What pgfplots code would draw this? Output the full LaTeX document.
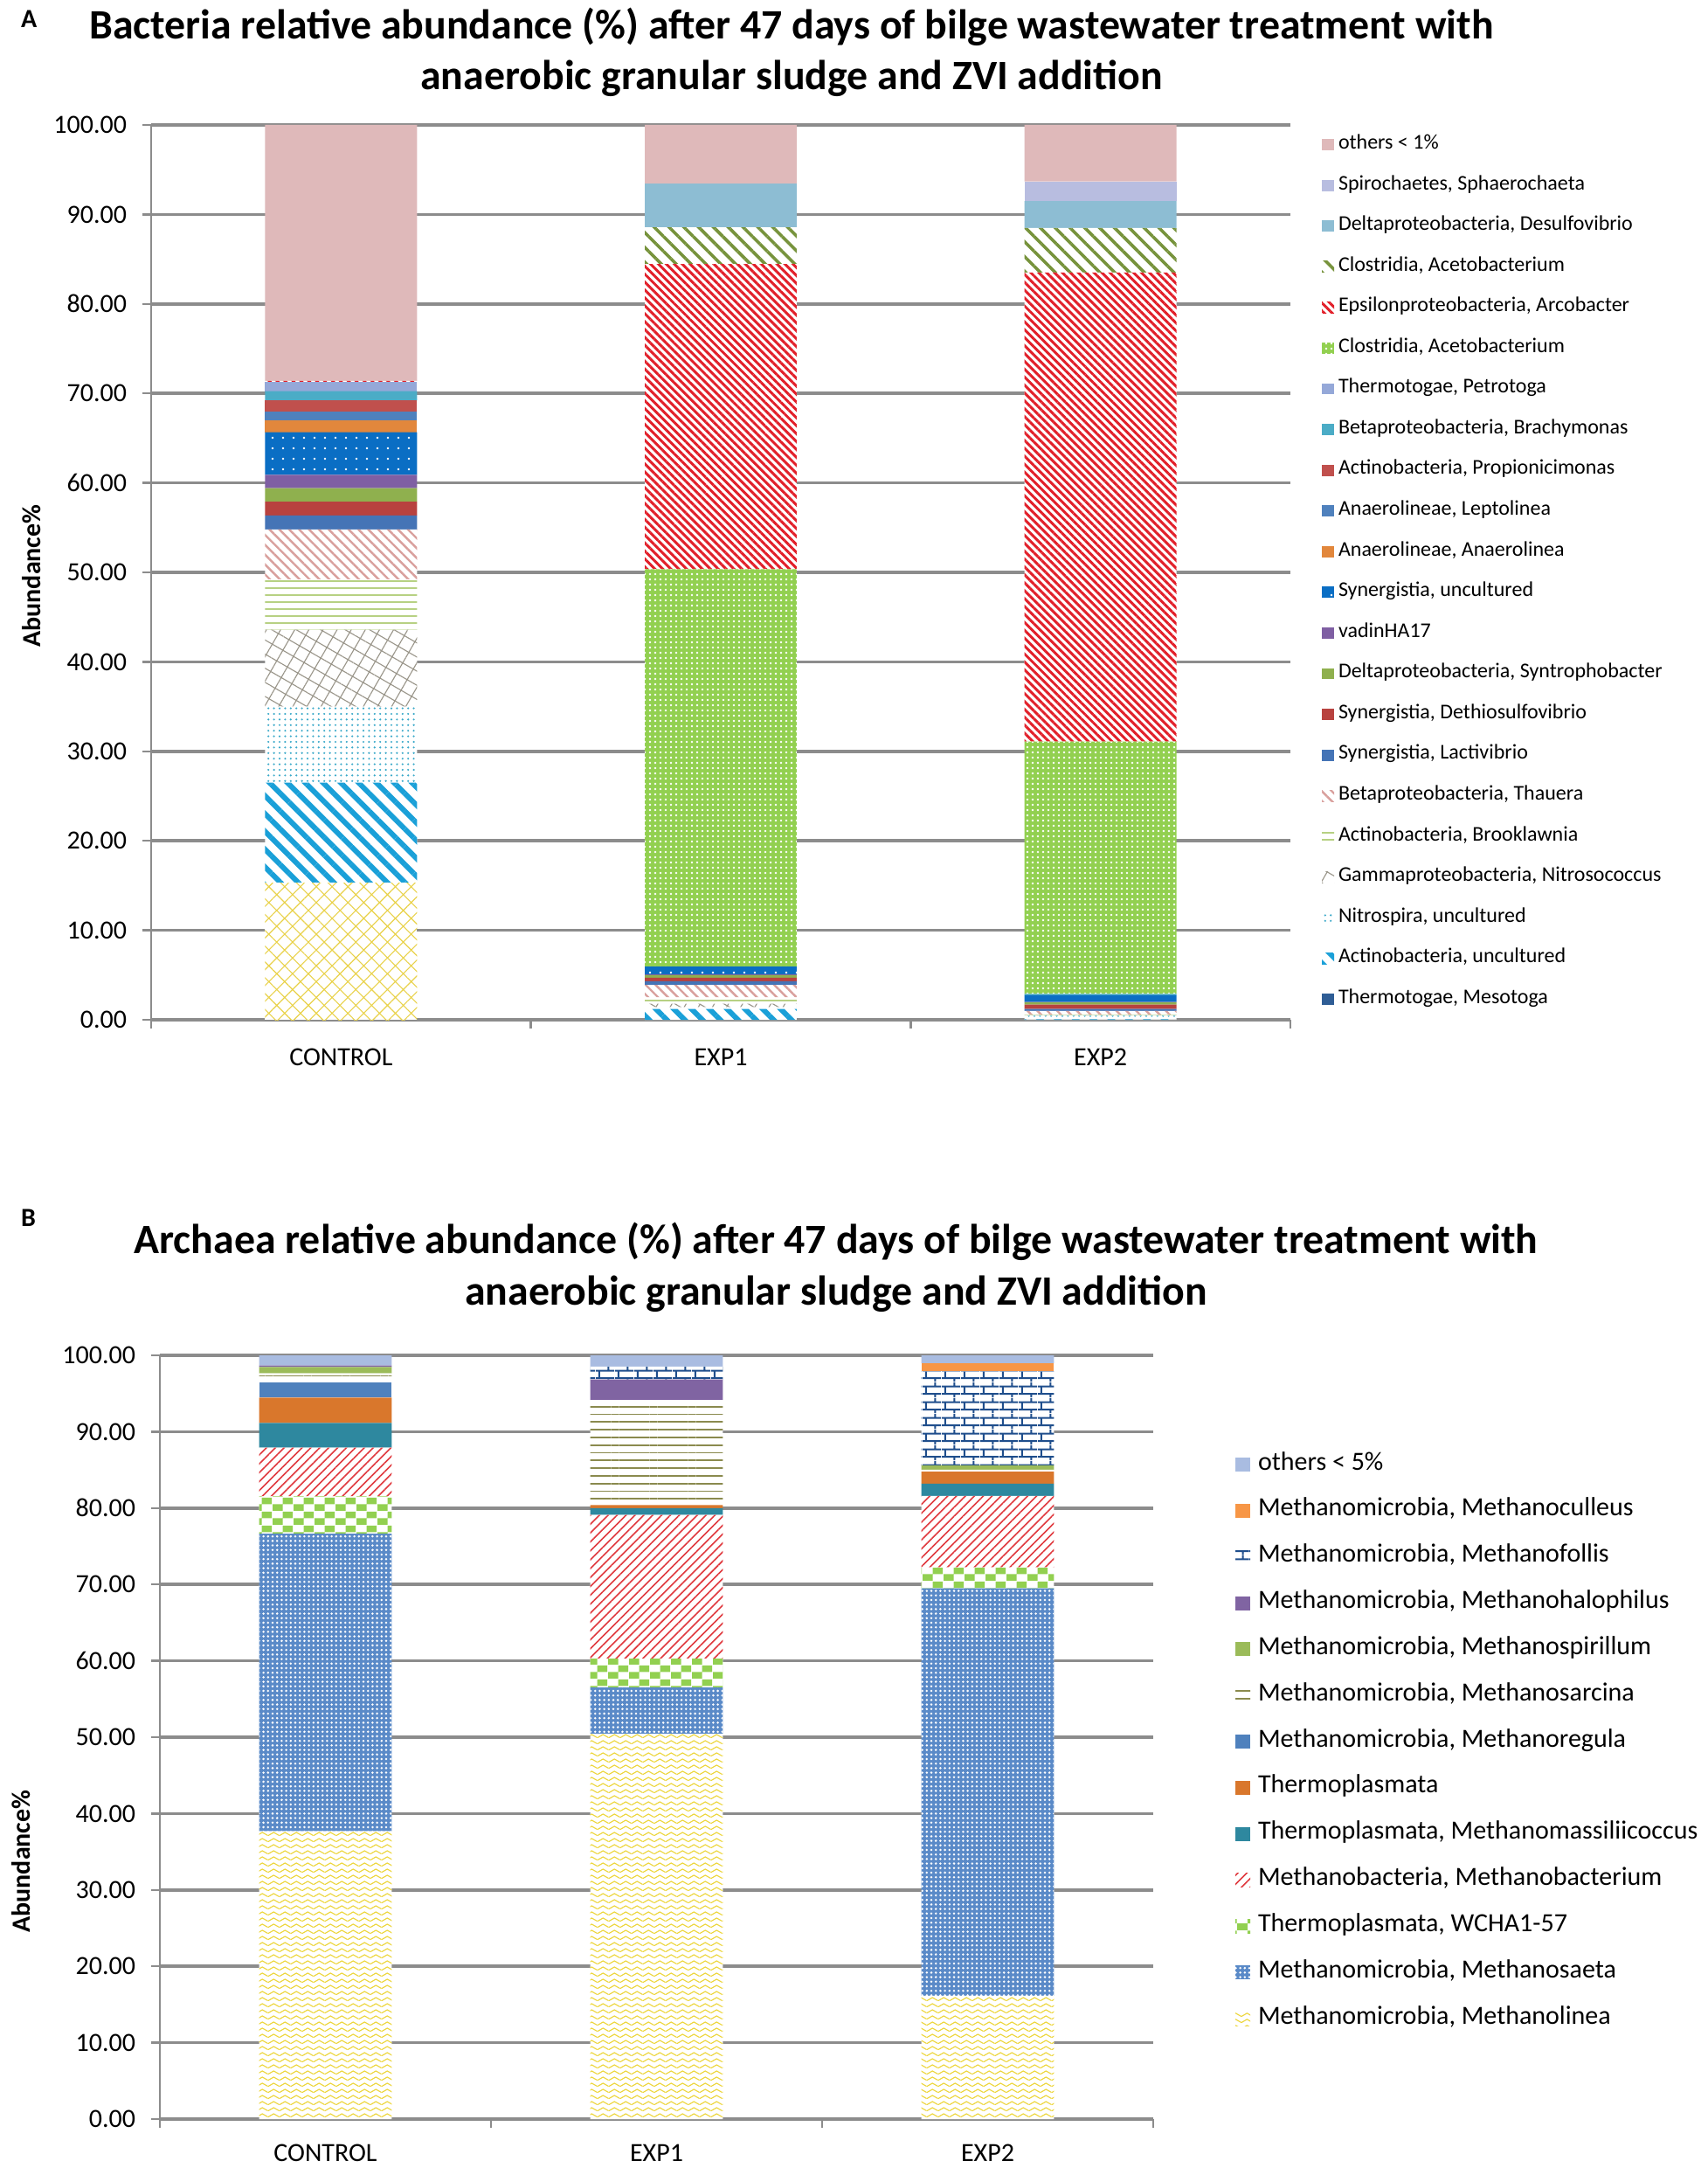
\documentclass[border=0pt]{standalone}
\usepackage{fontspec}
\setmainfont{Carlito}
\usepackage{pgfplots}
\pgfplotsset{compat=1.18}
\usetikzlibrary{patterns.meta}

\definecolor{cGrid}{HTML}{8C8C8C}
% panel A
\definecolor{cOthA}{HTML}{DFB9BA}
\definecolor{cSpiro}{HTML}{B8BDE0}
\definecolor{cDesulf}{HTML}{8DBDD3}
\definecolor{cOlive}{HTML}{77933C}
\definecolor{cArco}{HTML}{E2202A}
\definecolor{cGreenAc}{HTML}{92D050}
\definecolor{cPetro}{HTML}{95A8D8}
\definecolor{cBrachy}{HTML}{4BACC6}
\definecolor{cPropi}{HTML}{C0504D}
\definecolor{cLepto}{HTML}{4F81BD}
\definecolor{cAnaero}{HTML}{E2873C}
\definecolor{cSynU}{HTML}{0A6EC4}
\definecolor{cVadin}{HTML}{7F5FA3}
\definecolor{cSyntro}{HTML}{8FB04E}
\definecolor{cDethio}{HTML}{B8423F}
\definecolor{cLacti}{HTML}{4574B6}
\definecolor{cThauera}{HTML}{D9A09D}
\definecolor{cBrook}{HTML}{B7D183}
\definecolor{cGamma}{HTML}{9A968A}
\definecolor{cNitro}{HTML}{3AA9C9}
\definecolor{cActU}{HTML}{1AA0D8}
\definecolor{cMeso}{HTML}{2F5D95}
\definecolor{cYel}{HTML}{E9D24A}
% panel B
\definecolor{cOthB}{HTML}{A9BCE1}
\definecolor{cCull}{HTML}{F79646}
\definecolor{cFoll}{HTML}{1F4E8C}
\definecolor{cHalo}{HTML}{8064A2}
\definecolor{cSpir}{HTML}{9BBB59}
\definecolor{cSarc}{HTML}{8A8A4E}
\definecolor{cReg}{HTML}{4F81BD}
\definecolor{cTherm}{HTML}{D9772C}
\definecolor{cMassi}{HTML}{2E889F}
\definecolor{cMbact}{HTML}{E0393E}
\definecolor{cWCHA}{HTML}{92D050}
\definecolor{cSaeta}{HTML}{5A8AC8}
\definecolor{cLinea}{HTML}{EDD63A}

\pgfdeclarepattern{
  name=zigzag, type=uncolored,
  bottom left={\pgfpoint{0pt}{0pt}}, top right={\pgfpoint{3.2pt}{1.8pt}},
  tile size={\pgfpoint{3.2pt}{1.8pt}},
  code={
    \pgfsetlinewidth{0.3pt}
    \pgfpathmoveto{\pgfpoint{0pt}{0.4pt}}
    \pgfpathlineto{\pgfpoint{1.6pt}{1.4pt}}
    \pgfpathlineto{\pgfpoint{3.2pt}{0.4pt}}
    \pgfusepath{stroke}
  }
}
\pgfdeclarepattern{
  name=checker, type=uncolored,
  bottom left={\pgfpoint{0pt}{0pt}}, top right={\pgfpoint{6pt}{4pt}},
  tile size={\pgfpoint{6pt}{4pt}},
  code={
    \pgfpathrectangle{\pgfpoint{0pt}{0pt}}{\pgfpoint{3pt}{2pt}}
    \pgfpathrectangle{\pgfpoint{3pt}{2pt}}{\pgfpoint{3pt}{2pt}}
    \pgfusepath{fill}
  }
}
\pgfdeclarepattern{
  name=mybricks, type=uncolored,
  bottom left={\pgfpoint{0pt}{0pt}}, top right={\pgfpoint{5.5pt}{4.5pt}},
  tile size={\pgfpoint{5.5pt}{4.5pt}},
  code={
    \pgfsetlinewidth{0.5pt}
    \pgfpathmoveto{\pgfpoint{0pt}{1pt}}\pgfpathlineto{\pgfpoint{5.5pt}{1pt}}
    \pgfpathmoveto{\pgfpoint{0pt}{3.25pt}}\pgfpathlineto{\pgfpoint{5.5pt}{3.25pt}}
    \pgfpathmoveto{\pgfpoint{1pt}{1pt}}\pgfpathlineto{\pgfpoint{1pt}{3.25pt}}
    \pgfpathmoveto{\pgfpoint{3.75pt}{3.25pt}}\pgfpathlineto{\pgfpoint{3.75pt}{4.5pt}}
    \pgfpathmoveto{\pgfpoint{3.75pt}{0pt}}\pgfpathlineto{\pgfpoint{3.75pt}{1pt}}
    \pgfusepath{stroke}
  }
}

\pgfplotsset{
  chartbase/.style={
    scale only axis, ybar stacked, bar width=0.4,
    xmin=-0.5, xmax=2.5, ymin=0, ymax=100, enlargelimits=false,
    axis x line=bottom, axis y line=left, axis line style={-},
    x axis line style={draw=cGrid, line width=0.9pt},
    y axis line style={draw=cGrid, line width=0.6pt},
    ymajorgrids, major grid style={draw=cGrid, line width=0.9pt},
    ytick={0,10,...,100}, scaled y ticks=false,
    /pgf/number format/.cd, fixed, fixed zerofill, precision=2, assume math mode=true, /pgfplots/.cd,
    xtick={-0.5,0.5,1.5,2.5}, xticklabels={},
    extra x ticks={0,1,2}, extra x tick labels={CONTROL,EXP1,EXP2},
    extra x tick style={major tick length=0pt},
    tick align=outside, major tick length=2.5pt,
    tick style={draw=cGrid, line width=0.6pt},
    tick label style={font=\fontsize{7.5}{9}\selectfont},
    yticklabel style={inner sep=0pt, anchor=east, xshift=-4.3pt},
    reverse legend, legend cell align=left,
  },
}

\begin{document}
\begin{tikzpicture}
\path[use as bounding box] (0pt,0pt) rectangle (488.75pt,-620.25pt);

% ---------- Panel A ----------
\node[anchor=base west, font=\fontsize{7.5}{9}\selectfont\bfseries] at (2.5pt,-8pt) {A};
\node[anchor=base, font=\fontsize{11.95}{14.5}\selectfont\bfseries] at (226.5pt,-11.25pt) {Bacteria relative abundance (\%) after 47 days of bilge wastewater treatment with};
\node[anchor=base, font=\fontsize{11.95}{14.5}\selectfont\bfseries] at (226.5pt,-25.75pt) {anaerobic granular sludge and ZVI addition};

\begin{axis}[chartbase,
  at={(43.25pt,-291.75pt)}, anchor=south west, width=326pt, height=256pt,
  xticklabel style={anchor=base, yshift=-13pt},
  ylabel={Abundance\%},
  ylabel style={at={(axis description cs:-0.105,0.496)}, anchor=center, font=\fontsize{7.5}{9}\selectfont\bfseries},
  legend image code/.code={\path[#1,draw=none] (0pt,-1.6pt) rectangle (3.5pt,1.6pt);},
  legend style={at={(axis description cs:1.0276,0.9872)}, anchor=north west, draw=none, fill=none,
    inner sep=0pt, outer sep=0pt, font=\fontsize{6}{7}\selectfont, row sep=6.84pt,
    nodes={inner sep=0pt, text height=3.6pt, text depth=1.2pt},
    /tikz/every odd column/.append style={column sep=1.25pt}},
]
\addplot[forget plot, fill=white, draw=none, postaction={pattern={Hatch[distance=3.2pt,angle=45,line width=0.28pt]}, pattern color=cYel}] coordinates {(0,15.3) (1,0) (2,0)};
\addplot[fill=cMeso, draw=none] coordinates {(0,0) (1,0) (2,0)};
\addlegendentry{Thermotogae, Mesotoga}
\addplot[fill=white, draw=none, postaction={pattern={Lines[angle=-45,distance=3.6pt,line width=1.5pt]}, pattern color=cActU}] coordinates {(0,11.2) (1,1.2) (2,0.05)};
\addlegendentry{Actinobacteria, uncultured}
\addplot[fill=white, draw=none, postaction={pattern={Dots[distance=1.6pt,radius=0.3pt]}, pattern color=cNitro}] coordinates {(0,8.5) (1,0.2) (2,0.4)};
\addlegendentry{Nitrospira, uncultured}
\addplot[fill=white, draw=none, postaction={pattern={Hatch[distance=3.5pt,angle=60,line width=0.28pt]}, pattern color=cGamma}] coordinates {(0,8.6) (1,0.4) (2,0.05)};
\addlegendentry{Gammaproteobacteria, Nitrosococcus}
\addplot[fill=white, draw=none, postaction={pattern={Lines[angle=0,distance=2pt,line width=0.4pt]}, pattern color=cBrook}] coordinates {(0,5.6) (1,0.7) (2,0.05)};
\addlegendentry{Actinobacteria, Brooklawnia}
\addplot[fill=white, draw=none, postaction={pattern={Lines[angle=-45,distance=2pt,line width=0.6pt]}, pattern color=cThauera}] coordinates {(0,5.6) (1,1.4) (2,0.45)};
\addlegendentry{Betaproteobacteria, Thauera}
\addplot[fill=cLacti, draw=none] coordinates {(0,1.55) (1,0.4) (2,0.2)};
\addlegendentry{Synergistia, Lactivibrio}
\addplot[fill=cDethio, draw=none] coordinates {(0,1.55) (1,0.4) (2,0.5)};
\addlegendentry{Synergistia, Dethiosulfovibrio}
\addplot[fill=cSyntro, draw=none] coordinates {(0,1.5) (1,0.3) (2,0.25)};
\addlegendentry{Deltaproteobacteria, Syntrophobacter}
\addplot[fill=cVadin, draw=none] coordinates {(0,1.5) (1,0.1) (2,0.05)};
\addlegendentry{vadinHA17}
\addplot[fill=cSynU, draw=none, postaction={pattern={Dots[distance=3pt,radius=0.35pt]}, pattern color=white}] coordinates {(0,4.75) (1,0.85) (2,0.75)};
\addlegendentry{Synergistia, uncultured}
\addplot[fill=cAnaero, draw=none] coordinates {(0,1.3) (1,0) (2,0)};
\addlegendentry{Anaerolineae, Anaerolinea}
\addplot[fill=cLepto, draw=none] coordinates {(0,1.05) (1,0) (2,0)};
\addlegendentry{Anaerolineae, Leptolinea}
\addplot[fill=cPropi, draw=none] coordinates {(0,1.2) (1,0) (2,0)};
\addlegendentry{Actinobacteria, Propionicimonas}
\addplot[fill=cBrachy, draw=none] coordinates {(0,1.05) (1,0) (2,0.15)};
\addlegendentry{Betaproteobacteria, Brachymonas}
\addplot[fill=cPetro, draw=none] coordinates {(0,1.0) (1,0) (2,0)};
\addlegendentry{Thermotogae, Petrotoga}
\addplot[fill=cGreenAc, draw=none, postaction={pattern={Dots[distance=1.5pt,radius=0.35pt]}, pattern color=white}] coordinates {(0,0) (1,44.4) (2,28.2)};
\addlegendentry{Clostridia, Acetobacterium}
\addplot[fill=white, draw=none, postaction={pattern={Lines[angle=-45,distance=1.6pt,line width=0.75pt]}, pattern color=cArco}] coordinates {(0,0.15) (1,34.1) (2,52.4)};
\addlegendentry{Epsilonproteobacteria, Arcobacter}
\addplot[fill=white, draw=none, postaction={pattern={Lines[angle=-45,distance=3pt,line width=0.9pt]}, pattern color=cOlive}] coordinates {(0,0) (1,4.1) (2,5.0)};
\addlegendentry{Clostridia, Acetobacterium}
\addplot[fill=cDesulf, draw=none] coordinates {(0,0) (1,4.9) (2,3.0)};
\addlegendentry{Deltaproteobacteria, Desulfovibrio}
\addplot[fill=cSpiro, draw=none] coordinates {(0,0) (1,0) (2,2.2)};
\addlegendentry{Spirochaetes, Sphaerochaeta}
\addplot[fill=cOthA, draw=none] coordinates {(0,28.6) (1,6.55) (2,6.3)};
\addlegendentry{others < 1\%}
\end{axis}

% ---------- Panel B ----------
\node[anchor=base west, font=\fontsize{7.5}{9}\selectfont\bfseries] at (2.5pt,-350.75pt) {B};
\node[anchor=base, font=\fontsize{11.95}{14.5}\selectfont\bfseries] at (239.25pt,-358.5pt) {Archaea relative abundance (\%) after 47 days of bilge wastewater treatment with};
\node[anchor=base, font=\fontsize{11.95}{14.5}\selectfont\bfseries] at (239.25pt,-373.25pt) {anaerobic granular sludge and ZVI addition};

\begin{axis}[chartbase,
  at={(45.75pt,-606.25pt)}, anchor=south west, width=284.25pt, height=218.5pt,
  xticklabel style={anchor=base, yshift=-12pt},
  ylabel={Abundance\%},
  ylabel style={at={(axis description cs:-0.14,0.3375)}, anchor=center, font=\fontsize{7.5}{9}\selectfont\bfseries},
  legend image code/.code={\path[#1,draw=none] (0pt,-2pt) rectangle (4.25pt,2pt);},
  legend style={at={(axis description cs:1.0827,0.8707)}, anchor=north west, draw=none, fill=none,
    inner sep=0pt, outer sep=0pt, font=\fontsize{7.5}{9}\selectfont, row sep=7.21pt,
    nodes={inner sep=0pt, text height=4.5pt, text depth=1.5pt},
    /tikz/every odd column/.append style={column sep=2.25pt}},
]
\addplot[fill=white, draw=none, postaction={pattern=zigzag, pattern color=cLinea}] coordinates {(0,37.7) (1,50.45) (2,16.15)};
\addlegendentry{Methanomicrobia, Methanolinea}
\addplot[fill=cSaeta, draw=none, postaction={pattern={Dots[distance=1.3pt,radius=0.35pt]}, pattern color=white}] coordinates {(0,38.94) (1,6.05) (2,53.35)};
\addlegendentry{Methanomicrobia, Methanosaeta}
\addplot[fill=white, draw=none, postaction={pattern=checker, pattern color=cWCHA}] coordinates {(0,4.9) (1,3.8) (2,2.75)};
\addlegendentry{Thermoplasmata, WCHA1-57}
\addplot[fill=white, draw=none, postaction={pattern={Lines[angle=45,distance=1.8pt,line width=0.4pt]}, pattern color=cMbact}] coordinates {(0,6.37) (1,18.8) (2,9.35)};
\addlegendentry{Methanobacteria, Methanobacterium}
\addplot[fill=cMassi, draw=none] coordinates {(0,3.25) (1,0.9) (2,1.6)};
\addlegendentry{Thermoplasmata, Methanomassiliicoccus}
\addplot[fill=cTherm, draw=none] coordinates {(0,3.3) (1,0.4) (2,1.56)};
\addlegendentry{Thermoplasmata}
\addplot[fill=cReg, draw=none] coordinates {(0,2.04) (1,0) (2,0)};
\addlegendentry{Methanomicrobia, Methanoregula}
\addplot[fill=white, draw=none, postaction={pattern={Lines[angle=0,distance=2.2pt,line width=0.45pt]}, pattern color=cSarc}] coordinates {(0,1.13) (1,13.74) (2,0.27)};
\addlegendentry{Methanomicrobia, Methanosarcina}
\addplot[fill=cSpir, draw=none] coordinates {(0,0.84) (1,0) (2,0.57)};
\addlegendentry{Methanomicrobia, Methanospirillum}
\addplot[fill=cHalo, draw=none] coordinates {(0,0.19) (1,2.7) (2,0)};
\addlegendentry{Methanomicrobia, Methanohalophilus}
\addplot[fill=white, draw=none, postaction={pattern=mybricks, pattern color=cFoll}] coordinates {(0,0) (1,1.7) (2,12.3)};
\addlegendentry{Methanomicrobia, Methanofollis}
\addplot[fill=cCull, draw=none] coordinates {(0,0) (1,0) (2,1.07)};
\addlegendentry{Methanomicrobia, Methanoculleus}
\addplot[fill=cOthB, draw=none] coordinates {(0,1.34) (1,1.46) (2,1.03)};
\addlegendentry{others < 5\%}
\end{axis}
\end{tikzpicture}
\end{document}
